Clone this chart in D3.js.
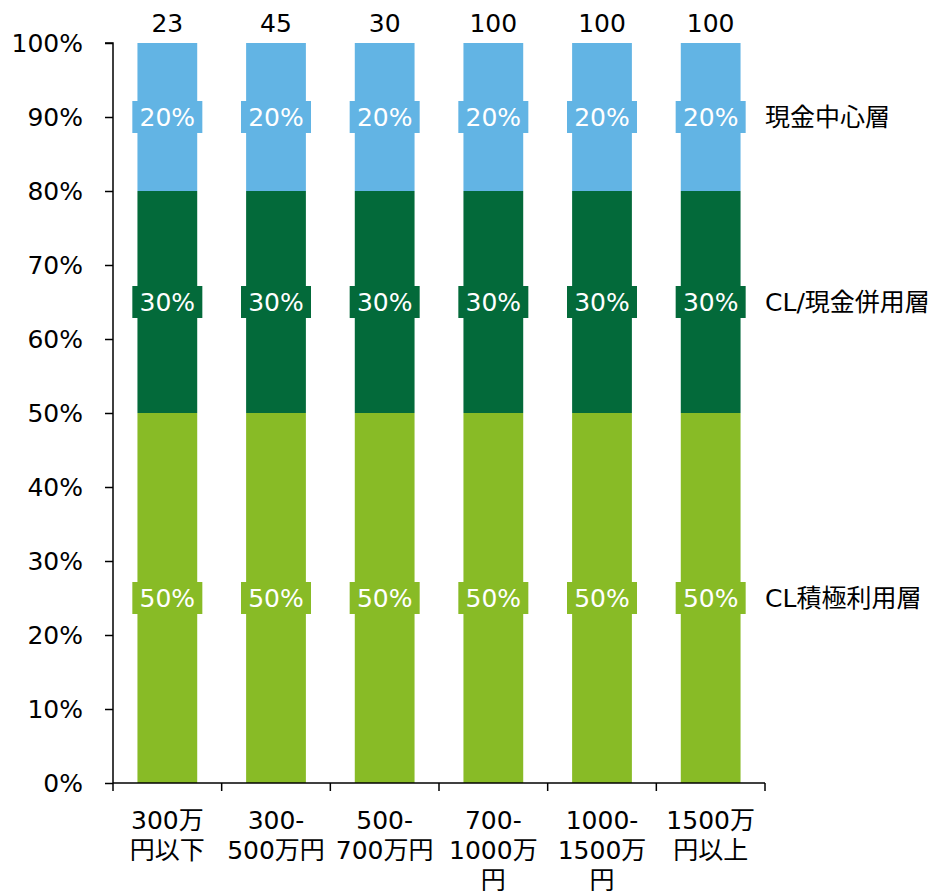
<!DOCTYPE html>
<html>
<head>
<meta charset="utf-8">
<script src="https://cdn.jsdelivr.net/npm/d3@7"></script>
<style>
  body { margin: 0; background: #fff; }
  svg text { font-family: "DejaVu Sans", "Noto Sans CJK JP", sans-serif; }
</style>
</head>
<body>
<svg id="chart" width="940" height="895"></svg>
<script>
// Income bands (line breaks as shown under the axis)
const categories = ["300万\n円以下", "300-\n500万円", "500-\n700万円", "700-\n1000万\n円", "1000-\n1500万\n円", "1500万\n円以上"];
// Respondent counts shown above each bar
const counts = [23, 45, 30, 100, 100, 100];
// Segment shares, bottom to top
const seriesNames = ["CL積極利用層", "CL/現金併用層", "現金中心層"];
const activeShare = [0.5, 0.5, 0.5, 0.5, 0.5, 0.5];
const mixedShare = [0.3, 0.3, 0.3, 0.3, 0.3, 0.3];
const cashShare = [0.2, 0.2, 0.2, 0.2, 0.2, 0.2];
const seriesColors = ["#88BB26", "#036A3A", "#62B4E4"];
const yTicks = [0, 0.1, 0.2, 0.3, 0.4, 0.5, 0.6, 0.7, 0.8, 0.9, 1.0];

const svg = d3.select("#chart");
const margin = { left: 113, right: 175, top: 43, bottom: 112 };
const W = 940, H = 895;

const rows = categories.map((c, i) => ({
  cat: c,
  active: activeShare[i],
  mixed: mixedShare[i],
  cash: cashShare[i]
}));
const keys = ["active", "mixed", "cash"];
const stacked = d3.stack().keys(keys)(rows);

const x = d3.scaleBand().domain(categories).range([margin.left, W - margin.right]).paddingInner(0.45).paddingOuter(0.225);
const y = d3.scaleLinear().domain([0, 1]).range([H - margin.bottom, margin.top]);

// Stacked bars
svg.append("g").selectAll("g").data(stacked).join("g")
  .attr("fill", (d, i) => seriesColors[i])
  .selectAll("rect").data(d => d).join("rect")
  .attr("x", d => x(d.data.cat))
  .attr("width", x.bandwidth())
  .attr("y", d => y(d[1]))
  .attr("height", d => y(d[0]) - y(d[1]));

// Value labels in boxes centred on each segment
const labelG = svg.append("g");
stacked.forEach((s, si) => {
  s.forEach(d => {
    const cx = x(d.data.cat) + x.bandwidth() / 2;
    const cy = y((d[0] + d[1]) / 2);
    const g = labelG.append("g").attr("transform", `translate(${cx},${cy})`);
    g.append("rect").attr("x", -35).attr("y", -16).attr("width", 70).attr("height", 32)
      .attr("fill", seriesColors[si]);
    g.append("text").attr("text-anchor", "middle").attr("dy", "0.36em")
      .attr("font-size", 25).attr("fill", "#fff")
      .text(d3.format(".0%")(d[1] - d[0]));
  });
});

// Y axis
const yAxis = svg.append("g").attr("transform", `translate(${margin.left},0)`)
  .call(d3.axisLeft(y).tickValues(yTicks).tickFormat(d3.format(".0%")).tickSize(8).tickPadding(22));
yAxis.selectAll("text").attr("font-size", 25).attr("fill", "#000");
yAxis.selectAll("line, path").attr("stroke", "#000").attr("stroke-width", 1.5);
yAxis.select(".domain").attr("d", `M-8,${y(1)}H0V${y(0)}`);

// X axis: line plus ticks at band boundaries
const xAxisG = svg.append("g").attr("transform", `translate(0,${y(0)})`);
const step = x.step();
const x0 = margin.left;
xAxisG.append("line").attr("x1", x0).attr("x2", x0 + step * categories.length)
  .attr("stroke", "#000").attr("stroke-width", 1.5);
d3.range(categories.length + 1).forEach(i => {
  xAxisG.append("line").attr("x1", x0 + i * step).attr("x2", x0 + i * step)
    .attr("y1", 0).attr("y2", 8).attr("stroke", "#000").attr("stroke-width", 1.5);
});
categories.forEach(c => {
  const t = xAxisG.append("text").attr("text-anchor", "middle").attr("font-size", 25).attr("fill", "#000")
    .attr("transform", `translate(${x(c) + x.bandwidth() / 2},0)`);
  c.split("\n").forEach((line, li) => {
    t.append("tspan").attr("x", 0).attr("y", 46 + li * 30).text(line);
  });
});

// Counts above bars
svg.append("g").selectAll("text").data(categories).join("text")
  .attr("x", c => x(c) + x.bandwidth() / 2)
  .attr("y", 32)
  .attr("text-anchor", "middle").attr("font-size", 25).attr("fill", "#000")
  .text((c, i) => counts[i]);

// Series names to the right of the last bar
const last = stacked.map(s => s[s.length - 1]);
svg.append("g").selectAll("text").data(last).join("text")
  .attr("x", x0 + step * categories.length)
  .attr("y", d => y((d[0] + d[1]) / 2))
  .attr("dy", "0.36em")
  .attr("font-size", 25).attr("fill", "#000")
  .text((d, i) => seriesNames[i]);
</script>
</body>
</html>
